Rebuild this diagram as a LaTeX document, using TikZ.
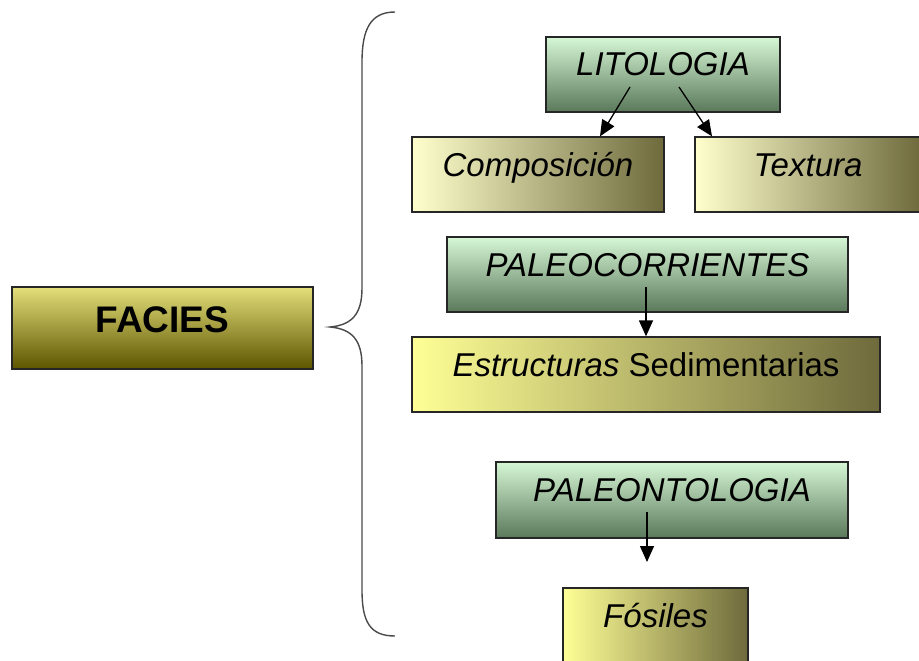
\documentclass[tikz,border=0pt]{standalone}
\usepackage{fontspec}
\setmainfont{Liberation Sans}
\usetikzlibrary{arrows.meta,positioning,calc}
\definecolor{oliveT}{HTML}{E3DF7A}
\definecolor{oliveB}{HTML}{5E5500}
\definecolor{greenT}{HTML}{D6F7D6}
\definecolor{greenB}{HTML}{5A785A}
\definecolor{creamL}{HTML}{FFFFCD}
\definecolor{lemonL}{HTML}{FFFF96}
\definecolor{khakiR}{HTML}{6E6A3C}
\definecolor{braceC}{HTML}{4A4A4A}

\begin{document}
\begin{tikzpicture}[x=1pt,y=-1pt,>={Triangle[width=14pt,length=16pt]},
  box/.style={draw=black!85,line width=1.3pt,inner ysep=0pt,inner xsep=0pt,
    text height=39pt,text depth=36pt,font=\fontsize{33}{38}\selectfont\itshape},
  gbox/.style={box,top color=greenT,bottom color=greenB},
  ybox/.style={box,left color=creamL,right color=khakiR},
  lbox/.style={ybox,left color=lemonL},
  flecha/.style={->,line width=1.3pt}]
\useasboundingbox (0,0) rectangle (919,661);

\node [draw=black!85,line width=1.3pt,top color=oliveT,bottom color=oliveB,inner sep=0pt,
  minimum width=301pt,text height=45pt,text depth=37pt,
  font=\fontsize{37}{42}\selectfont\bfseries] at (162.5,328) (facies) {FACIES};

% llave
\draw [braceC,line width=1.4pt] (395,12) .. controls (370,12) and (362,30) .. (362,62)
  -- (362,288) .. controls (362,314) and (352,325) .. (330,327)
  .. controls (352,329) and (362,340) .. (362,366)
  -- (362,590) .. controls (362,622) and (370,636) .. (395,636);

\node [gbox,minimum width=234pt] at (663,74.5) (lito) {LITOLOGIA};
\node [ybox,minimum width=252pt] at (538,174.5) (compo) {Composición};
\node [ybox,minimum width=226pt] at (808,174.5) (textura) {Textura};

\node [gbox,minimum width=401pt] at (647.5,274.5) (paleoc) {PALEOCORRIENTES};
\node [lbox,minimum width=468pt] at (646,374.5) (estruct) {Estructuras \upshape Sedimentarias};

\node [gbox,minimum width=352pt,text depth=37pt] at (672,500) (paleon) {PALEONTOLOGIA};
\node [lbox,minimum width=185pt,text depth=51pt] at (655.5,633) (fosiles) {Fósiles};

\coordinate (litoA) at (630,87);
\coordinate (litoB) at (679,87);
\coordinate (paleocA) at (646,287);
\coordinate (paleonA) at (647,512);
\coordinate (fosA) at (647,562);

\draw [flecha] (litoA) -- ([xshift=62pt]compo.north);
\draw [flecha] (litoB) -- ([xshift=-96pt]textura.north);
\draw [flecha] (paleocA) -- (estruct.north);
\draw [flecha] (paleonA) -- (fosA);
\end{tikzpicture}
\end{document}
